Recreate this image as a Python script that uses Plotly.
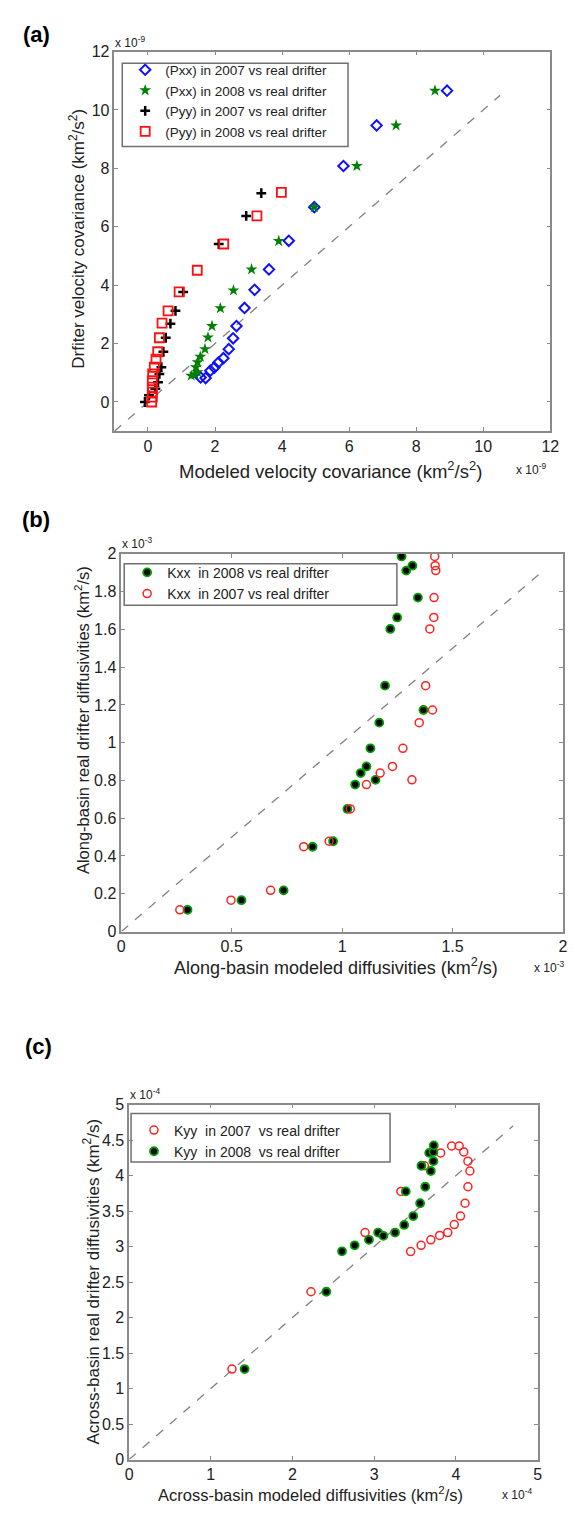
import plotly.graph_objects as go

W, H = 573, 1515

# ---------- (a) velocity covariance, units of 1e-9 km^2/s^2 ----------
pxx07_model = [1.57, 1.72, 1.86, 1.98, 2.10, 2.25, 2.41, 2.54, 2.64, 2.88, 3.18, 3.61, 4.20, 4.96, 5.83, 6.82, 8.92]
pxx07_drift = [0.84, 0.82, 1.07, 1.18, 1.35, 1.50, 1.81, 2.18, 2.60, 3.22, 3.84, 4.54, 5.52, 6.67, 8.08, 9.47, 10.66]

pxx08_model = [1.29, 1.40, 1.48, 1.43, 1.48, 1.56, 1.70, 1.79, 1.91, 2.16, 2.55, 3.09, 3.90, 4.96, 6.23, 7.40, 8.56]
pxx08_drift = [0.90, 0.95, 1.02, 1.19, 1.36, 1.55, 1.81, 2.21, 2.60, 3.21, 3.82, 4.54, 5.51, 6.67, 8.08, 9.47, 10.66]

pyy07_model = [-0.09, 0.03, 0.22, 0.30, 0.34, 0.40, 0.46, 0.53, 0.67, 0.82, 1.05, 2.11, 2.93, 3.38]
pyy07_drift = [0.00, 0.23, 0.45, 0.68, 0.96, 1.19, 1.72, 2.20, 2.68, 3.12, 3.77, 5.41, 6.37, 7.15]

pyy08_model = [0.11, 0.13, 0.13, 0.13, 0.13, 0.14, 0.19, 0.24, 0.29, 0.34, 0.42, 0.60, 0.93, 1.47, 2.26, 3.25, 3.98]
pyy08_drift = [0.00, 0.17, 0.34, 0.51, 0.73, 0.96, 1.19, 1.47, 1.72, 2.20, 2.70, 3.12, 3.77, 4.51, 5.41, 6.37, 7.18]

# ---------- (b) along-basin diffusivities, units of 1e-3 km^2/s ----------
kxx08_model = [0.300, 0.544, 0.735, 0.866, 0.959, 1.024, 1.059, 1.084, 1.110, 1.151, 1.128, 1.168, 1.194,
               1.368, 1.218, 1.249, 1.343, 1.290, 1.318, 1.269]
kxx08_drift = [0.115, 0.166, 0.218, 0.449, 0.478, 0.649, 0.778, 0.839, 0.874, 0.803, 0.970, 1.106, 1.302,
               1.173, 1.602, 1.663, 1.768, 1.911, 1.937, 1.986]

kxx07_model = [0.265, 0.497, 0.676, 0.826, 0.941, 1.037, 1.110, 1.172, 1.228, 1.316, 1.275, 1.349, 1.378,
               1.409, 1.397, 1.415, 1.416, 1.424, 1.421, 1.419]
kxx07_drift = [0.115, 0.166, 0.218, 0.449, 0.478, 0.649, 0.778, 0.839, 0.874, 0.803, 0.970, 1.106, 1.302,
               1.173, 1.602, 1.663, 1.768, 1.911, 1.937, 1.986]

# ---------- (c) across-basin diffusivities, units of 1e-4 km^2/s ----------
kyy07_model = [1.259, 2.227, 2.888, 3.327, 3.614, 3.446, 3.574, 3.693, 3.801, 3.900, 3.980, 4.056, 4.112,
               4.147, 4.171, 4.147, 4.096, 4.040, 3.948, 3.813]
kyy07_drift = [1.274, 2.363, 3.197, 3.777, 4.138, 2.929, 3.017, 3.095, 3.156, 3.197, 3.309, 3.429, 3.610,
               3.842, 4.064, 4.203, 4.333, 4.416, 4.416, 4.319]

kyy08_model = [1.414, 2.414, 2.606, 2.761, 2.936, 3.048, 3.112, 3.255, 3.367, 3.478, 3.562, 3.625, 3.693,
               3.725, 3.673, 3.725, 3.729, 3.578, 3.386]
kyy08_drift = [1.274, 2.363, 2.933, 3.017, 3.095, 3.197, 3.151, 3.197, 3.304, 3.429, 3.610, 3.842, 4.064,
               4.203, 4.319, 4.333, 4.425, 4.138, 3.777]

# one-to-one reference lines
diag_a = [-1.0, 10.5]
diag_b = [0.0, 1.91]
diag_c = [0.0, 4.7]

FONT = "Liberation Sans, Arial, sans-serif"
AX_COL = "#8a8a8a"
TXT = "#222222"

# plot boxes in pixels: (left, top, right, bottom)
box_a = (113, 44, 559, 428)
box_b = (120, 552, 572, 934)
box_c = (128, 1109, 546, 1468)


def xdom(b):
    return [b[0] / W, b[2] / W]


def ydom(b):
    return [1 - b[3] / H, 1 - b[1] / H]


def px(x):
    return x / W


def py(y):
    return 1 - y / H


fig = go.Figure()

# ----- panel (a)
fig.add_trace(go.Scatter(x=diag_a, y=diag_a, mode="lines", showlegend=False,
                         line=dict(color="#808080", width=1.3, dash="dash"), xaxis="x", yaxis="y"))
fig.add_trace(go.Scatter(x=pxx07_model, y=pxx07_drift, mode="markers", name="(Pxx) in 2007 vs real drifter",
                         marker=dict(symbol="diamond-open", size=8, color="#1010ff", line=dict(width=2)),
                         xaxis="x", yaxis="y", legend="legend"))
fig.add_trace(go.Scatter(x=pxx08_model, y=pxx08_drift, mode="markers", name="(Pxx) in 2008 vs real drifter",
                         marker=dict(symbol="star", size=9, color="#008000", line=dict(width=0)),
                         xaxis="x", yaxis="y", legend="legend"))
fig.add_trace(go.Scatter(x=pyy07_model, y=pyy07_drift, mode="markers", name="(Pyy) in 2007 vs real drifter",
                         marker=dict(symbol="cross-thin-open", size=7, color="black", line=dict(width=2.5, color="black")),
                         xaxis="x", yaxis="y", legend="legend"))
fig.add_trace(go.Scatter(x=pyy08_model, y=pyy08_drift, mode="markers", name="(Pyy) in 2008 vs real drifter",
                         marker=dict(symbol="square-open", size=9, color="#ff1010", line=dict(width=1.8)),
                         xaxis="x", yaxis="y", legend="legend"))

# ----- panel (b)
fig.add_trace(go.Scatter(x=diag_b, y=diag_b, mode="lines", showlegend=False,
                         line=dict(color="#808080", width=1.3, dash="dash"), xaxis="x2", yaxis="y2"))
fig.add_trace(go.Scatter(x=kxx08_model, y=kxx08_drift, mode="markers", name="Kxx  in 2008 vs real drifter",
                         marker=dict(symbol="circle", size=8, color="black", line=dict(width=1.8, color="#00a000")),
                         xaxis="x2", yaxis="y2", legend="legend2"))
fig.add_trace(go.Scatter(x=kxx07_model, y=kxx07_drift, mode="markers", name="Kxx  in 2007 vs real drifter",
                         marker=dict(symbol="circle-open", size=8, color="#ff2020", line=dict(width=1.5)),
                         xaxis="x2", yaxis="y2", legend="legend2"))

# ----- panel (c)
fig.add_trace(go.Scatter(x=diag_c, y=diag_c, mode="lines", showlegend=False,
                         line=dict(color="#808080", width=1.3, dash="dash"), xaxis="x3", yaxis="y3"))
fig.add_trace(go.Scatter(x=kyy07_model, y=kyy07_drift, mode="markers", name="Kyy  in 2007  vs real drifter",
                         marker=dict(symbol="circle-open", size=8, color="#ff2020", line=dict(width=1.5)),
                         xaxis="x3", yaxis="y3", legend="legend3"))
fig.add_trace(go.Scatter(x=kyy08_model, y=kyy08_drift, mode="markers", name="Kyy  in 2008  vs real drifter",
                         marker=dict(symbol="circle", size=8, color="black", line=dict(width=1.8, color="#00a000")),
                         xaxis="x3", yaxis="y3", legend="legend3"))


def axis(dom, rng, tv, tt, anchor):
    return dict(domain=dom, range=rng, tickvals=tv, ticktext=tt, anchor=anchor,
                showline=True, linecolor=AX_COL, linewidth=1.5, mirror="ticks",
                ticks="inside", ticklen=4, tickcolor=AX_COL, tickwidth=1,
                showgrid=False, zeroline=False, tickfont=dict(family=FONT, size=16, color=TXT))


ta = list(range(0, 13, 2))
tb_x = [0, 0.5, 1, 1.5, 2]
tb_y = [round(0.2 * i, 1) for i in range(11)]
tc = [0.5 * i for i in range(11)]


def lab(v):
    return "%g" % v


fig.update_layout(
    width=W, height=H, margin=dict(l=0, r=0, t=0, b=0),
    paper_bgcolor="white", plot_bgcolor="white",
    font=dict(family=FONT, color=TXT),
    xaxis=axis(xdom(box_a), [-1, 12], ta, [lab(v) for v in ta], "y"),
    yaxis=axis(ydom(box_a), [-1, 12], ta, [lab(v) for v in ta], "x"),
    xaxis2=axis(xdom(box_b), [0, 2], tb_x, [lab(v) for v in tb_x], "y2"),
    yaxis2=axis(ydom(box_b), [0, 2], tb_y, [lab(v) for v in tb_y], "x2"),
    xaxis3=axis(xdom(box_c), [0, 5], list(range(6)), [str(v) for v in range(6)], "y3"),
    yaxis3=axis(ydom(box_c), [0, 5], tc, [lab(v) for v in tc], "x3"),
    legend=dict(x=px(124), y=py(47), xanchor="left", yanchor="top", bgcolor="rgba(0,0,0,0)",
                font=dict(family=FONT, size=13.5, color=TXT), tracegroupgap=0),
    legend2=dict(x=px(126), y=py(555), xanchor="left", yanchor="top", bgcolor="rgba(0,0,0,0)",
                 font=dict(family=FONT, size=14, color=TXT)),
    legend3=dict(x=px(133), y=py(1119), xanchor="left", yanchor="top", bgcolor="rgba(0,0,0,0)",
                 font=dict(family=FONT, size=14, color=TXT)),
)

# legend frames
for (x0, y0, x1, y1) in [(121, 56, 352, 140), (123, 562, 402, 604), (130, 1118, 395, 1167)]:
    fig.add_shape(type="rect", xref="paper", yref="paper", x0=px(x0), x1=px(x1), y0=py(y1), y1=py(y0),
                  line=dict(color="#707070", width=1.5), fillcolor="white", layer="below")


def note(x, y, text, size=16, angle=0, xanchor="center", bold=False):
    fig.add_annotation(x=px(x), y=py(y), xref="paper", yref="paper", text=("<b>%s</b>" % text) if bold else text,
                       showarrow=False, textangle=angle, xanchor=xanchor, yanchor="middle",
                       font=dict(family=FONT, size=size, color=TXT if not bold else "black"))


# panel labels
note(33, 27, "(a)", size=22, bold=True)
note(33, 517, "(b)", size=22, bold=True)
note(35, 1050, "(c)", size=22, bold=True)

# exponent markers
note(112, 34, "x 10<sup>-9</sup>", size=12, xanchor="left")
note(522, 466, "x 10<sup>-9</sup>", size=12, xanchor="left")
note(119, 541, "x 10<sup>-3</sup>", size=12, xanchor="left")
note(540, 970, "x 10<sup>-3</sup>", size=12, xanchor="left")
note(127, 1098, "x 10<sup>-4</sup>", size=12, xanchor="left")
note(508, 1503, "x 10<sup>-4</sup>", size=12, xanchor="left")

# axis titles
note(334, 467, "Modeled velocity covariance (km<sup>2</sup>/s<sup>2</sup>)", size=18.5)
note(75, 233, "Drfiter velocity covariance (km<sup>2</sup>/s<sup>2</sup>)", size=17, angle=-90)
note(340, 969, "Along-basin modeled diffusivities (km<sup>2</sup>/s)", size=18)
note(80, 720, "Along-basin real drifter diffusivities (km<sup>2</sup>/s)", size=16.5, angle=-90)
note(314, 1503, "Across-basin modeled diffusivities (km<sup>2</sup>/s)", size=16.5)
note(89, 1288, "Across-basin real drifter diffusivities (km<sup>2</sup>/s)", size=17, angle=-90)

fig.write_html("out.html")
